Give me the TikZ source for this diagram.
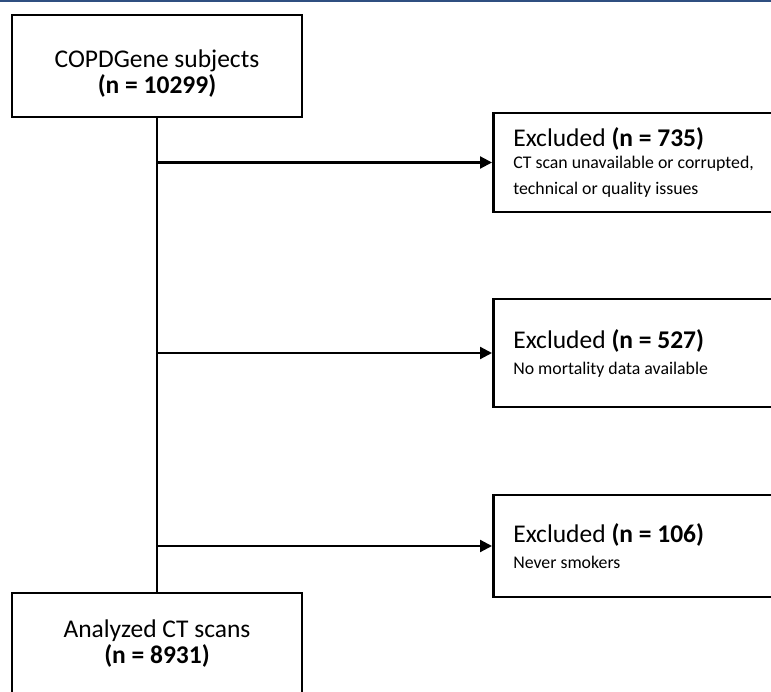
\documentclass[tikz,border=0pt]{standalone}
\usepackage{fontspec}
\setmainfont{Carlito}
\usetikzlibrary{arrows.meta,positioning}

\definecolor{rulebar}{RGB}{47,79,128}
\newcommand{\detailfont}{\fontsize{17.8}{22}\selectfont\spaceskip=0pt\xspaceskip=0pt}

\begin{document}
\begin{tikzpicture}[x=1pt, y=-1pt,
  box/.style={draw, line width=2.6pt},
  mainbox/.style={box, minimum width=290, minimum height=102, align=center,
    font=\fontsize{25.5}{26}\selectfont},
  exbox/.style={box, anchor=west, inner xsep=20pt, text width=290, align=flush left,
    font=\fontsize{25.5}{26}\selectfont,
    execute at begin node={\spaceskip=0pt\xspaceskip=0pt}},
  link/.style={line width=2.2pt, -{Triangle[length=12pt,width=12pt]}}]
  \useasboundingbox (0,0) rectangle (771,692);
  \clip (0,0) rectangle (771,692);
  \draw[rulebar, line width=2.5pt] (0,0.5) -- (771,0.5);
  \node[mainbox] (cohort) at (157,66) {\rule{0pt}{32pt}COPDGene subjects\\\textbf{(n = 10299)}};
  \node[mainbox] (final) at (157,644) {Analyzed CT scans\\\textbf{(n = 8931)}};
  \node[exbox, minimum height=99] (exA) at (492,162.5)
    {Excluded \textbf{(n = 735)}\par\detailfont CT scan unavailable or corrupted,\\technical or quality issues};
  \node[exbox, minimum height=108] (exB) at (492,353)
    {Excluded \textbf{(n = 527)}\par\detailfont No mortality data available};
  \node[exbox, minimum height=102] (exC) at (492,546)
    {Excluded \textbf{(n = 106)}\par\detailfont Never smokers};
  \draw[line width=2.6pt] (cohort) -- (final);
  \foreach \ex in {exA,exB,exC}
    \draw[link] (cohort.south |- \ex.west) -- (\ex.west);
\end{tikzpicture}
\end{document}
